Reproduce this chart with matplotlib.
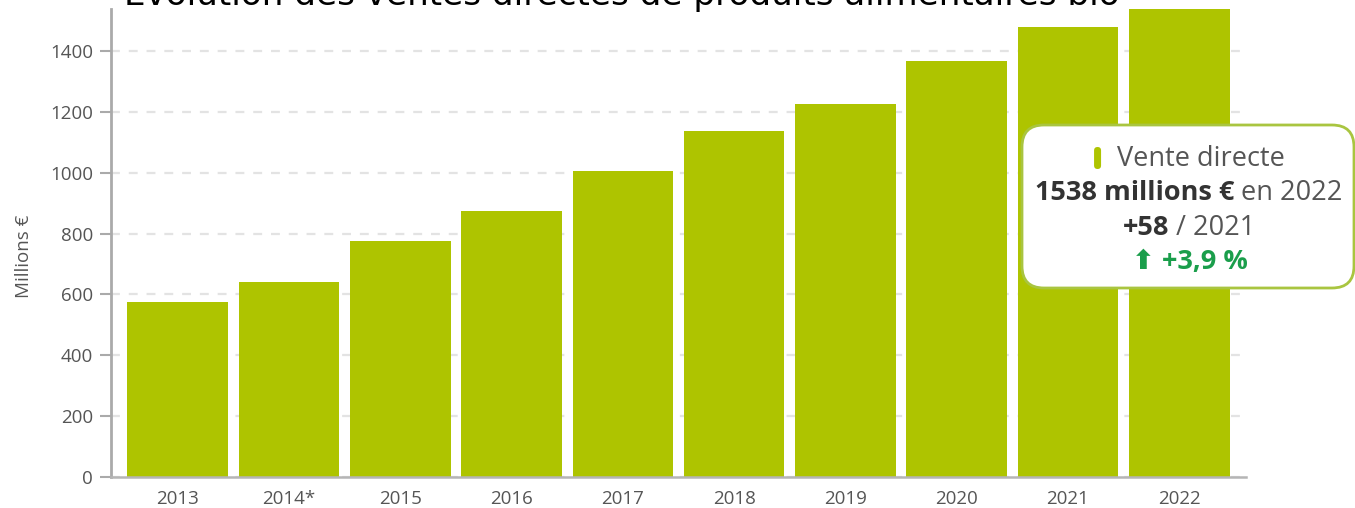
import matplotlib.pyplot as plt
from matplotlib.patches import FancyBboxPatch
from matplotlib.transforms import IdentityTransform

YEARS = ["2013", "2014*", "2015", "2016", "2017", "2018", "2019", "2020", "2021", "2022"]
SALES = [576, 642, 774, 873, 1005, 1136, 1225, 1367, 1480, 1538]
Y_TICKS = [0, 200, 400, 600, 800, 1000, 1200, 1400]

BAR_GREEN = "#aec400"
TEXT_GREY = "#555555"
DARK = "#333333"
UP_GREEN = "#1a9e4b"

plt.rcParams["font.family"] = ["Open Sans", "DejaVu Sans"]

W, H = 1355, 508
fig = plt.figure(figsize=(W / 100, H / 100), dpi=100)
ax = fig.add_axes([111 / W, 1 - 477 / H, (1246 - 111) / W, (477 - 9) / H])

x = range(len(YEARS))
ax.bar(x, SALES, width=0.905, color=BAR_GREEN, zorder=2, clip_on=False)

ax.set_xlim(-0.6, 9.6)
ax.set_ylim(0, max(SALES))
ax.set_yticks(Y_TICKS)
ax.set_xticks(list(x))
ax.set_xticklabels(YEARS)
ax.grid(axis="y", color="#e3e3e3", linestyle=(0, (4, 4)), linewidth=1.6, zorder=0)
ax.tick_params(axis="y", length=8, width=1.5, color="#aaaaaa", labelcolor=TEXT_GREY,
               labelsize=13.5, pad=5)
ax.tick_params(axis="x", length=0, labelcolor=TEXT_GREY, labelsize=13.5, pad=9)

for side in ("top", "right"):
    ax.spines[side].set_visible(False)
ax.spines["left"].set_color("#aaaaaa")
ax.spines["left"].set_linewidth(2)
ax.spines["bottom"].set_color("#b5b5b5")
ax.spines["bottom"].set_linewidth(1.8)

fig.text(24 / W, 1 - 256 / H, "Millions €", rotation=90, ha="center", va="center",
         color=TEXT_GREY, fontsize=13.5)

# title sits partly above the canvas
fig.text(622 / W, 1 - 5 / H, "Évolution des ventes directes de produits alimentaires bio",
         ha="center", va="baseline", fontsize=24.6, color="black", family="DejaVu Sans")

# tooltip box for the last year (pixel coordinates, origin bottom-left)
box = FancyBboxPatch((1022, H - 288), 332, 163,
                     boxstyle="round,pad=0,rounding_size=22",
                     transform=IdentityTransform(), facecolor="white",
                     edgecolor="#a9c540", linewidth=2, zorder=5, clip_on=False)
fig.patches.append(box)

renderer = fig.canvas.get_renderer()


def centered_line(parts, cx, cy, size=19.5):
    """Draw a row of text pieces with different styles, centred on cx (pixels)."""
    texts = []
    for s, weight, color in parts:
        t = fig.text(0, 1 - cy / H, s, fontsize=size, fontweight=weight, color=color,
                     va="center", ha="left", zorder=6)
        texts.append(t)
    widths = [t.get_window_extent(renderer).width for t in texts]
    left = cx - sum(widths) / 2
    start = left
    for t, w in zip(texts, widths):
        t.set_x(left / W)
        left += w
    return start


last, prev = SALES[-1], SALES[-2]
diff = last - prev
pct = diff / prev * 100

start = centered_line([("Vente directe", "normal", TEXT_GREY)], 1201, 159)
marker = FancyBboxPatch((start - 23, H - 169), 7, 22,
                        boxstyle="round,pad=0,rounding_size=3.5",
                        transform=IdentityTransform(), facecolor=BAR_GREEN,
                        edgecolor="none", zorder=6)
fig.patches.append(marker)
centered_line([(f"{last} millions €", "bold", DARK), (f" en {YEARS[-1]}", "normal", TEXT_GREY)],
              1189, 193)
centered_line([(f"+{diff}", "bold", DARK), (f" / {YEARS[-2]}", "normal", TEXT_GREY)],
              1189, 228)
centered_line([("⬆ ", "bold", UP_GREEN),
               (f"+{pct:.1f} %".replace(".", ","), "bold", UP_GREEN)], 1190, 262)

fig.savefig("out.png", dpi=100)
